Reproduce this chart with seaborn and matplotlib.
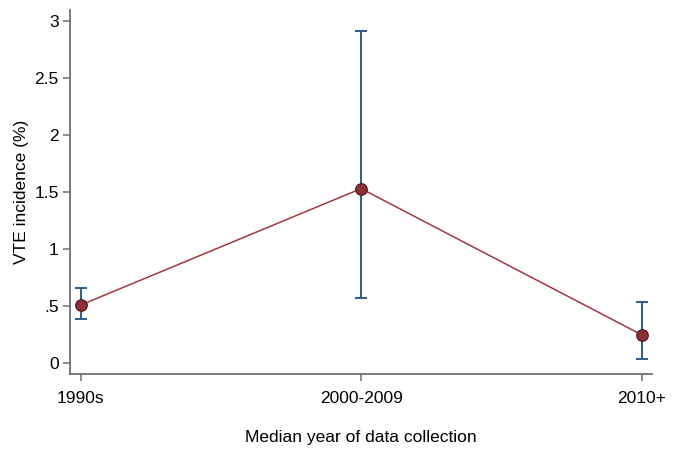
import matplotlib
matplotlib.use("Agg")
import matplotlib.pyplot as plt
import seaborn as sns
import pandas as pd

categories = ["1990s", "2000-2009", "2010+"]
incidence = [0.51, 1.53, 0.25]
ci_low = [0.39, 0.57, 0.04]
ci_high = [0.66, 2.91, 0.54]
y_ticks = [0, 0.5, 1, 1.5, 2, 2.5, 3]
y_tick_labels = ["0", ".5", "1", "1.5", "2", "2.5", "3"]

sns.set_theme(style="white")
plt.rcParams["font.family"] = ["Liberation Sans", "DejaVu Sans"]

df = pd.DataFrame({"pos": range(len(categories)), "inc": incidence,
                   "lo": ci_low, "hi": ci_high})

fig = plt.figure(figsize=(6.88, 4.49), dpi=100)
ax = fig.add_axes([0.1017, 0.1664, 0.846, 0.8113])

line_col = "#A0393E"
bar_col = "#2E5E8C"

ax.errorbar(df["pos"], df["inc"],
            yerr=[df["inc"] - df["lo"], df["hi"] - df["inc"]],
            fmt="none", ecolor=bar_col, elinewidth=1.4, capsize=4, capthick=1.4, zorder=2)
sns.lineplot(data=df, x="pos", y="inc", ax=ax, color=line_col, linewidth=1.1, zorder=3)
sns.scatterplot(data=df, x="pos", y="inc", ax=ax, color="#8E2F35", edgecolor="#4E1518",
                linewidth=0.8, s=70, zorder=4)

ax.set_xlim(-0.038, 2.037)
ax.set_ylim(-0.096, 3.094)
ax.set_xticks(range(len(categories)))
ax.set_xticklabels(categories)
ax.set_yticks(y_ticks)
ax.set_yticklabels(y_tick_labels)

ax.set_xlabel("Median year of data collection", fontsize=12.5, color="black", labelpad=17)
ax.set_ylabel("VTE incidence (%)", fontsize=12.5, color="black", labelpad=4)

for s in ["top", "right"]:
    ax.spines[s].set_visible(False)
for s in ["left", "bottom"]:
    ax.spines[s].set_color("#6E6E6E")
    ax.spines[s].set_linewidth(1.3)

ax.tick_params(axis="both", which="major", direction="out", length=5, width=1.1,
               color="#6E6E6E", labelsize=12.5, labelcolor="black", left=True, bottom=True)
ax.tick_params(axis="x", pad=7)
ax.tick_params(axis="y", pad=3)

fig.savefig("out.png", dpi=100)
